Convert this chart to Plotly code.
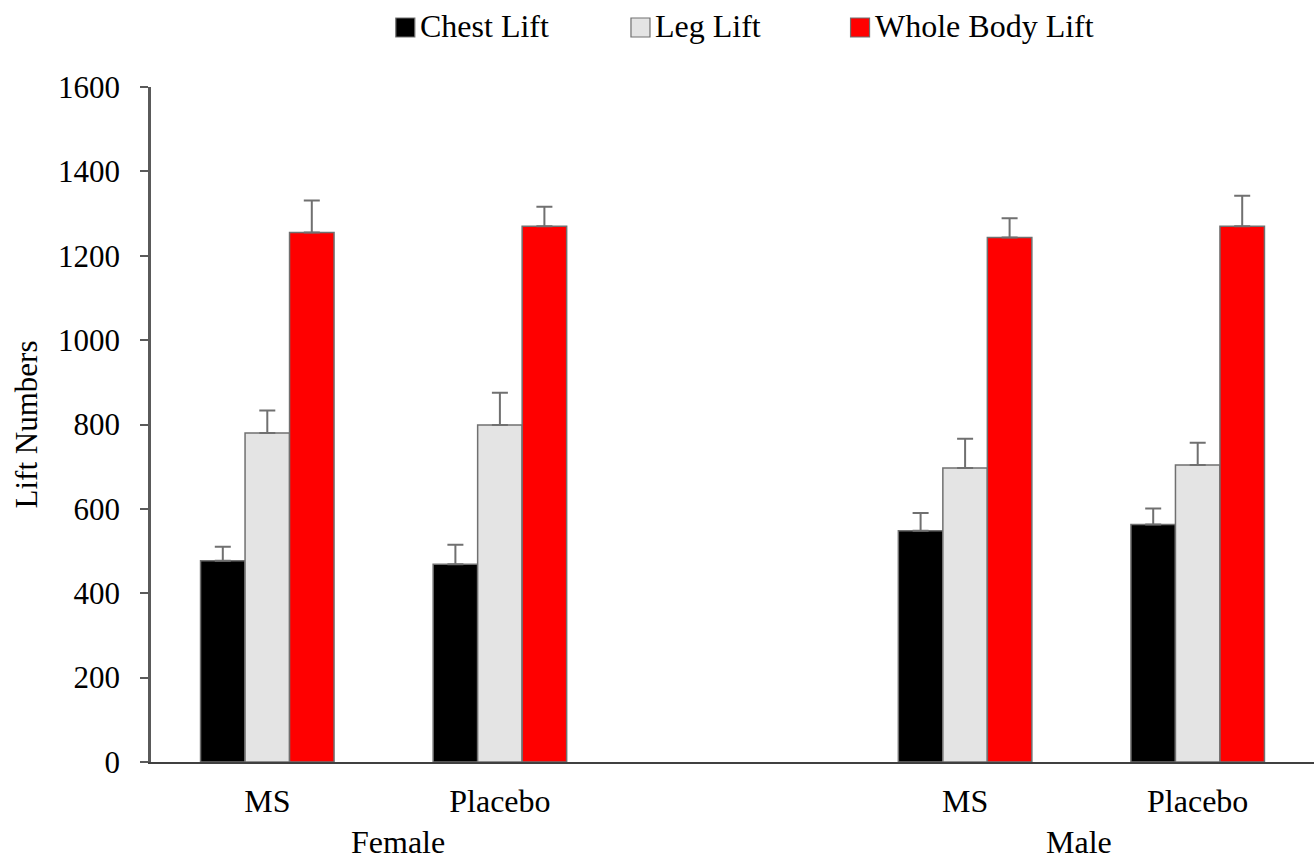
import plotly.graph_objects as go

# Lift results by sex and supplement group
groups = ["Female", "Male"]
treatments = ["MS", "Placebo"]

chest_lift = [477, 469, 548, 563]
chest_err = [33, 46, 42, 38]
leg_lift = [780, 799, 697, 704]
leg_err = [53, 76, 69, 53]
whole_lift = [1255, 1270, 1243, 1270]
whole_err = [76, 46, 46, 72]

y_ticks = [0, 200, 400, 600, 800, 1000, 1200, 1400, 1600]

# x positions: each sex gets two slots, with one empty slot between sexes
x_pos = [g * 3 + t for g in range(len(groups)) for t in range(len(treatments))]
x_text = [t for _ in groups for t in treatments]

series = [
    ("Chest Lift", chest_lift, chest_err, "#000000"),
    ("Leg Lift", leg_lift, leg_err, "#E4E4E4"),
    ("Whole Body Lift", whole_lift, whole_err, "#FF0000"),
]

SERIF = "Liberation Serif, Times New Roman, serif"
EDGE = "#707070"

fig = go.Figure()
for name, vals, errs, color in series:
    fig.add_trace(go.Bar(
        name=name,
        x=x_pos,
        y=vals,
        marker=dict(color=color, line=dict(color=EDGE, width=1.5)),
        error_y=dict(type="data", array=errs, arrayminus=[0] * len(errs),
                     symmetric=False, color=EDGE, thickness=2, width=8),
        showlegend=False,
    ))

# legend row drawn above the plot
legend_items = [
    ("Chest Lift", "#000000", 0.2105),
    ("Leg Lift", "#E4E4E4", 0.4127),
    ("Whole Body Lift", "#FF0000", 0.6015),
]
W = 1162.6
H = 675.0
for text, color, x0 in legend_items:
    fig.add_shape(type="rect", xref="paper", yref="paper",
                  x0=x0, x1=x0 + 19 / W, y0=(762 - 37) / H, y1=(762 - 18) / H,
                  fillcolor=color, line=dict(color=EDGE, width=1.2))
    fig.add_annotation(text=text, xref="paper", yref="paper",
                       x=x0 + 22 / W, y=(762 - 26) / H, xanchor="left", yanchor="middle",
                       showarrow=False, font=dict(family=SERIF, size=32, color="#000000"))

# group labels under the treatment labels
for gi, g in enumerate(groups):
    fig.add_annotation(text=g, xref="x", yref="paper",
                       x=gi * 3 + (0.56 if gi == 0 else 0.49), y=(762 - 842) / H,
                       xanchor="center", yanchor="middle", showarrow=False,
                       font=dict(family=SERIF, size=32, color="#000000"))

fig.update_layout(
    width=1315, height=862,
    margin=dict(l=151, r=1, t=87, b=100),
    paper_bgcolor="white", plot_bgcolor="white",
    barmode="group", bargap=0.426, bargroupgap=0,
    font=dict(family=SERIF, color="#000000"),
    xaxis=dict(
        range=[-0.5, 4.5], tickmode="array", tickvals=x_pos, ticktext=x_text,
        showgrid=False, zeroline=False, showline=True, linecolor="#404040", linewidth=1.5,
        ticks="", tickfont=dict(family=SERIF, size=32, color="#000000"),
        ticklabelstandoff=10,
    ),
    yaxis=dict(
        range=[0, 1600], tickvals=y_ticks, showgrid=False, zeroline=False,
        showline=True, linecolor="#5A5A5A", linewidth=2.5,
        ticks="outside", ticklen=8, tickwidth=2, tickcolor="#5A5A5A",
        tickfont=dict(family=SERIF, size=31, color="#000000"),
        ticklabelstandoff=14,
        title=dict(text="Lift Numbers", font=dict(family=SERIF, size=31, color="#000000"),
                   standoff=12),
    ),
)

fig.write_html("out.html")
